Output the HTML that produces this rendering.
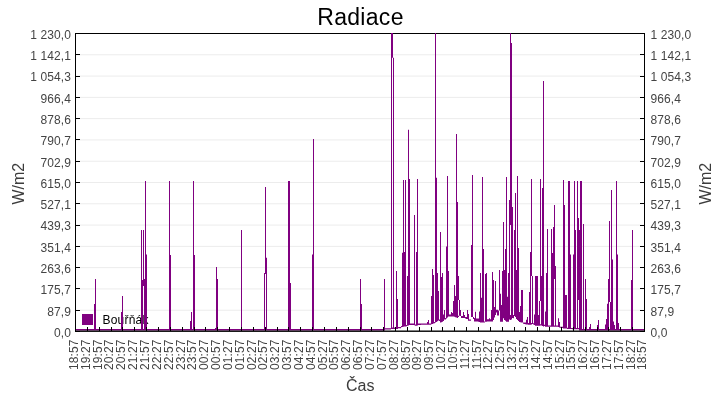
<!DOCTYPE html>
<html><head><meta charset="utf-8"><title>Radiace</title>
<style>
html,body{margin:0;padding:0;background:#fff;}
body{width:720px;height:400px;overflow:hidden;font-family:"Liberation Sans",sans-serif;}
svg{display:block;will-change:transform;font-family:"Liberation Sans",sans-serif;}
.tl{font-size:12px;fill:#444;letter-spacing:0.1px;}
.al{font-size:16px;fill:#3c3c3c;}
</style></head><body>
<svg width="720" height="400" viewBox="0 0 720 400">
<rect x="0" y="0" width="720" height="400" fill="#ffffff"/>
<text x="360.5" y="25" text-anchor="middle" font-size="23px" letter-spacing="0.3" fill="#000">Radiace</text>
<g fill="#ececec">
<rect x="76" y="54.29" width="568" height="1"/>
<rect x="76" y="75.57" width="568" height="1"/>
<rect x="76" y="96.86" width="568" height="1"/>
<rect x="76" y="118.14" width="568" height="1"/>
<rect x="76" y="139.43" width="568" height="1"/>
<rect x="76" y="160.71" width="568" height="1"/>
<rect x="76" y="182" width="568" height="1"/>
<rect x="76" y="203.29" width="568" height="1"/>
<rect x="76" y="224.57" width="568" height="1"/>
<rect x="76" y="245.86" width="568" height="1"/>
<rect x="76" y="267.14" width="568" height="1"/>
<rect x="76" y="288.43" width="568" height="1"/>
<rect x="76" y="309.71" width="568" height="1"/>
</g>
<rect x="82" y="314" width="11" height="11" fill="#800080"/>
<text x="102.5" y="323.8" font-size="12px" letter-spacing="0.2" fill="#000">Bouřňák</text>
<rect x="75" y="33" width="570" height="1" fill="#000" shape-rendering="crispEdges"/>
<g fill="#800080" shape-rendering="crispEdges">
<path shape-rendering="auto" d="M76 329v1.5h1v-1.5zM77 329v1.5h1v-1.5zM78 329v1.5h1v-1.5zM79 329v1.5h1v-1.5zM80 329v1.5h1v-1.5zM81 329v1.5h1v-1.5zM82 329v1.5h1v-1.5zM83 329v1.5h1v-1.5zM84 329v1.5h1v-1.5zM85 329v1.5h1v-1.5zM86 329v1.5h1v-1.5zM87 329v1.5h1v-1.5zM88 329v1.5h1v-1.5zM89 329v1.5h1v-1.5zM90 329v1.5h1v-1.5zM91 329v1.5h1v-1.5zM92 329v1.5h1v-1.5zM93 329v1.5h1v-1.5zM94 304v26.5h1v-26.5zM95 279v51.5h1v-51.5zM96 329v1.5h1v-1.5zM97 329v1.5h1v-1.5zM98 329v1.5h1v-1.5zM99 329v1.5h1v-1.5zM100 329v1.5h1v-1.5zM101 329v1.5h1v-1.5zM102 329v1.5h1v-1.5zM103 329v1.5h1v-1.5zM104 329v1.5h1v-1.5zM105 329v1.5h1v-1.5zM106 329v1.5h1v-1.5zM107 329v1.5h1v-1.5zM108 329v1.5h1v-1.5zM109 329v1.5h1v-1.5zM110 329v1.5h1v-1.5zM111 329v1.5h1v-1.5zM112 329v1.5h1v-1.5zM113 329v1.5h1v-1.5zM114 329v1.5h1v-1.5zM115 329v1.5h1v-1.5zM116 329v1.5h1v-1.5zM117 329v1.5h1v-1.5zM118 329v1.5h1v-1.5zM119 329v1.5h1v-1.5zM120 329v1.5h1v-1.5zM121 312v18.5h1v-18.5zM122 296v34.5h1v-34.5zM123 329v1.5h1v-1.5zM124 329v1.5h1v-1.5zM125 329v1.5h1v-1.5zM126 329v1.5h1v-1.5zM127 329v1.5h1v-1.5zM128 329v1.5h1v-1.5zM129 329v1.5h1v-1.5zM130 329v1.5h1v-1.5zM131 329v1.5h1v-1.5zM132 329v1.5h1v-1.5zM133 329v1.5h1v-1.5zM134 329v1.5h1v-1.5zM135 329v1.5h1v-1.5zM136 329v1.5h1v-1.5zM137 329v1.5h1v-1.5zM138 329v1.5h1v-1.5zM139 329v1.5h1v-1.5zM140 329v1.5h1v-1.5zM141 230v100.5h1v-100.5zM142 280v50.5h1v-50.5zM143 230v56h1v-56zM143 329v1.5h1v-1.5zM144 279v51.5h1v-51.5zM145 181v149.5h1v-149.5zM146 254.6v75.9h1v-75.9zM147 329v1.5h1v-1.5zM148 329v1.5h1v-1.5zM149 329v1.5h1v-1.5zM150 329v1.5h1v-1.5zM151 329v1.5h1v-1.5zM152 329v1.5h1v-1.5zM153 329v1.5h1v-1.5zM154 329v1.5h1v-1.5zM155 329v1.5h1v-1.5zM156 329v1.5h1v-1.5zM157 329v1.5h1v-1.5zM158 329v1.5h1v-1.5zM159 329v1.5h1v-1.5zM160 329v1.5h1v-1.5zM161 329v1.5h1v-1.5zM162 329v1.5h1v-1.5zM163 329v1.5h1v-1.5zM164 329v1.5h1v-1.5zM165 329v1.5h1v-1.5zM166 329v1.5h1v-1.5zM167 329v1.5h1v-1.5zM168 329v1.5h1v-1.5zM169 181v149.5h1v-149.5zM170 255v75.5h1v-75.5zM171 329v1.5h1v-1.5zM172 329v1.5h1v-1.5zM173 329v1.5h1v-1.5zM174 329v1.5h1v-1.5zM175 329v1.5h1v-1.5zM176 329v1.5h1v-1.5zM177 329v1.5h1v-1.5zM178 329v1.5h1v-1.5zM179 329v1.5h1v-1.5zM180 329v1.5h1v-1.5zM181 329v1.5h1v-1.5zM182 329v1.5h1v-1.5zM183 329v1.5h1v-1.5zM184 329v1.5h1v-1.5zM185 329v1.5h1v-1.5zM186 329v1.5h1v-1.5zM187 329v1.5h1v-1.5zM188 329v1.5h1v-1.5zM189 329v1.5h1v-1.5zM190 321v9.5h1v-9.5zM191 312v18.5h1v-18.5zM192 329v1.5h1v-1.5zM193 181v149.5h1v-149.5zM194 255v75.5h1v-75.5zM195 329v1.5h1v-1.5zM196 329v1.5h1v-1.5zM197 329v1.5h1v-1.5zM198 329v1.5h1v-1.5zM199 329v1.5h1v-1.5zM200 329v1.5h1v-1.5zM201 329v1.5h1v-1.5zM202 329v1.5h1v-1.5zM203 329v1.5h1v-1.5zM204 329v1.5h1v-1.5zM205 329v1.5h1v-1.5zM206 329v1.5h1v-1.5zM207 329v1.5h1v-1.5zM208 329v1.5h1v-1.5zM209 329v1.5h1v-1.5zM210 329v1.5h1v-1.5zM211 329v1.5h1v-1.5zM212 329v1.5h1v-1.5zM213 329v1.5h1v-1.5zM214 329v1.5h1v-1.5zM215 328v2.5h1v-2.5zM216 267v63.5h1v-63.5zM217 279v51.5h1v-51.5zM218 329v1.5h1v-1.5zM219 329v1.5h1v-1.5zM220 329v1.5h1v-1.5zM221 329v1.5h1v-1.5zM222 329v1.5h1v-1.5zM223 329v1.5h1v-1.5zM224 329v1.5h1v-1.5zM225 329v1.5h1v-1.5zM226 329v1.5h1v-1.5zM227 329v1.5h1v-1.5zM228 329v1.5h1v-1.5zM229 329v1.5h1v-1.5zM230 329v1.5h1v-1.5zM231 329v1.5h1v-1.5zM232 329v1.5h1v-1.5zM233 329v1.5h1v-1.5zM234 329v1.5h1v-1.5zM235 329v1.5h1v-1.5zM236 329v1.5h1v-1.5zM237 329v1.5h1v-1.5zM238 329v1.5h1v-1.5zM239 329v1.5h1v-1.5zM240 329v1.5h1v-1.5zM241 230v100.5h1v-100.5zM242 329v1.5h1v-1.5zM243 329v1.5h1v-1.5zM244 329v1.5h1v-1.5zM245 329v1.5h1v-1.5zM246 329v1.5h1v-1.5zM247 329v1.5h1v-1.5zM248 329v1.5h1v-1.5zM249 329v1.5h1v-1.5zM250 329v1.5h1v-1.5zM251 329v1.5h1v-1.5zM252 329v1.5h1v-1.5zM253 329v1.5h1v-1.5zM254 329v1.5h1v-1.5zM255 329v1.5h1v-1.5zM256 329v1.5h1v-1.5zM257 329v1.5h1v-1.5zM258 329v1.5h1v-1.5zM259 329v1.5h1v-1.5zM260 329v1.5h1v-1.5zM261 329v1.5h1v-1.5zM262 329v1.5h1v-1.5zM263 329v1.5h1v-1.5zM264 273v57.5h1v-57.5zM265 187v87h1v-87zM265 329v1.5h1v-1.5zM266 257.75v72.75h1v-72.75zM267 329v1.5h1v-1.5zM268 329v1.5h1v-1.5zM269 329v1.5h1v-1.5zM270 329v1.5h1v-1.5zM271 329v1.5h1v-1.5zM272 329v1.5h1v-1.5zM273 329v1.5h1v-1.5zM274 329v1.5h1v-1.5zM275 329v1.5h1v-1.5zM276 329v1.5h1v-1.5zM277 329v1.5h1v-1.5zM278 329v1.5h1v-1.5zM279 329v1.5h1v-1.5zM280 329v1.5h1v-1.5zM281 329v1.5h1v-1.5zM282 329v1.5h1v-1.5zM283 329v1.5h1v-1.5zM284 329v1.5h1v-1.5zM285 329v1.5h1v-1.5zM286 329v1.5h1v-1.5zM287 329v1.5h1v-1.5zM288 181v149.5h1v-149.5zM289 181v149.5h1v-149.5zM290 283v47.5h1v-47.5zM291 329v1.5h1v-1.5zM292 329v1.5h1v-1.5zM293 329v1.5h1v-1.5zM294 329v1.5h1v-1.5zM295 329v1.5h1v-1.5zM296 329v1.5h1v-1.5zM297 329v1.5h1v-1.5zM298 329v1.5h1v-1.5zM299 329v1.5h1v-1.5zM300 329v1.5h1v-1.5zM301 329v1.5h1v-1.5zM302 329v1.5h1v-1.5zM303 329v1.5h1v-1.5zM304 329v1.5h1v-1.5zM305 329v1.5h1v-1.5zM306 329v1.5h1v-1.5zM307 329v1.5h1v-1.5zM308 329v1.5h1v-1.5zM309 329v1.5h1v-1.5zM310 329v1.5h1v-1.5zM311 329v1.5h1v-1.5zM312 254.6v75.9h1v-75.9zM313 139v191.5h1v-191.5zM314 329v1.5h1v-1.5zM315 329v1.5h1v-1.5zM316 329v1.5h1v-1.5zM317 329v1.5h1v-1.5zM318 329v1.5h1v-1.5zM319 329v1.5h1v-1.5zM320 329v1.5h1v-1.5zM321 329v1.5h1v-1.5zM322 329v1.5h1v-1.5zM323 329v1.5h1v-1.5zM324 329v1.5h1v-1.5zM325 329v1.5h1v-1.5zM326 329v1.5h1v-1.5zM327 329v1.5h1v-1.5zM328 329v1.5h1v-1.5zM329 329v1.5h1v-1.5zM330 329v1.5h1v-1.5zM331 329v1.5h1v-1.5zM332 329v1.5h1v-1.5zM333 329v1.5h1v-1.5zM334 329v1.5h1v-1.5zM335 329v1.5h1v-1.5zM336 329v1.5h1v-1.5zM337 329v1.5h1v-1.5zM338 329v1.5h1v-1.5zM339 329v1.5h1v-1.5zM340 329v1.5h1v-1.5zM341 329v1.5h1v-1.5zM342 329v1.5h1v-1.5zM343 329v1.5h1v-1.5zM344 329v1.5h1v-1.5zM345 329v1.5h1v-1.5zM346 329v1.5h1v-1.5zM347 329v1.5h1v-1.5zM348 329v1.5h1v-1.5zM349 329v1.5h1v-1.5zM350 329v1.5h1v-1.5zM351 329v1.5h1v-1.5zM352 329v1.5h1v-1.5zM353 329v1.5h1v-1.5zM354 329v1.5h1v-1.5zM355 329v1.5h1v-1.5zM356 329v1.5h1v-1.5zM357 329v1.5h1v-1.5zM358 329v1.5h1v-1.5zM359 329v1.5h1v-1.5zM360 279v51.5h1v-51.5zM361 304v26.5h1v-26.5zM362 329v1.5h1v-1.5zM363 329v1.5h1v-1.5zM364 329v1.5h1v-1.5zM365 329v1.5h1v-1.5zM366 329v1.5h1v-1.5zM367 329v1.5h1v-1.5zM368 329v1.5h1v-1.5zM369 329v1.5h1v-1.5zM370 329v1.5h1v-1.5zM371 329v1.5h1v-1.5zM372 329v1.5h1v-1.5zM373 329v1.5h1v-1.5zM374 329v1.5h1v-1.5zM375 329v1.5h1v-1.5zM376 329v1.5h1v-1.5zM377 329v1.5h1v-1.5zM378 329v1.5h1v-1.5zM379 329v1.5h1v-1.5zM380 329v1.5h1v-1.5zM381 329v1.5h1v-1.5zM382 329v1.5h1v-1.5zM383 329v1.5h1v-1.5zM384 279v51.5h1v-51.5zM385 328.2v1.3h1v-1.3zM386 328.2v1.3h1v-1.3zM387 328.2v1.3h1v-1.3zM388 328.2v1.3h1v-1.3zM389 328.2v1.3h1v-1.3zM390 328.2v1.3h1v-1.3zM391 33v295.9h1v-295.9zM392 33v24.75h1v-24.75zM392 327.6v1.3h1v-1.3zM393 57.75v271.15h1v-271.15zM394 327.6v1.3h1v-1.3zM395 327.6v1.3h1v-1.3zM396 271v57.9h1v-57.9zM397 299v29.9h1v-29.9zM398 326.9v1.3h1v-1.3zM399 326.9v1.3h1v-1.3zM400 326.9v1.3h1v-1.3zM401 325.9v1.3h1v-1.3zM402 252.75v74.25h1v-74.25zM403 180v146.8h1v-146.8zM404 252v74.6h1v-74.6zM405 180v146.4h1v-146.4zM406 324.9v1.3h1v-1.3zM407 276v49.8h1v-49.8zM408 129.75v195.65h1v-195.65zM409 179v146h1v-146zM410 323.6v1.3h1v-1.3zM411 323.6v1.3h1v-1.3zM412 323.6v1.3h1v-1.3zM413 323.6v1.3h1v-1.3zM414 215v110.35h1v-110.35zM415 324.5v1.3h1v-1.3zM416 252v73.65h1v-73.65zM417 179v146.5h1v-146.5zM418 323.6v1.3h1v-1.3zM419 323.59v1.3h1v-1.3zM420 323.58v1.3h1v-1.3zM421 323.57v1.3h1v-1.3zM422 323.57v1.3h1v-1.3zM423 323.56v1.3h1v-1.3zM424 323.55v1.3h1v-1.3zM425 323.54v1.3h1v-1.3zM426 323.53v1.3h1v-1.3zM427 322v2.82h1v-2.82zM428 320v4.82h1v-4.82zM429 323.51v1.3h1v-1.3zM430 323.5v1.3h1v-1.3zM431 295.9v28.47h1v-28.47zM432 269v54.93h1v-54.93zM433 275v48.5h1v-48.5zM434 322v1.3h1v-1.3zM435 33v289.62h1v-289.62zM436 177.75v144.2h1v-144.2zM437 273v48.28h1v-48.28zM438 290.9v29.7h1v-29.7zM439 319.5v1.5h1v-1.5zM440 232v90.6h1v-90.6zM441 277v45.15h1v-45.15zM442 273v48.7h1v-48.7zM443 314.5v6.5h1v-6.5zM444 310v9.5h1v-9.5zM445 318v1.5h1v-1.5zM446 246.5v72h1v-72zM447 176v141.45h1v-141.45zM448 271v45.4h1v-45.4zM449 314.5v1.9h1v-1.9zM450 314.5v1.9h1v-1.9zM451 312v4.4h1v-4.4zM452 313v3.4h1v-3.4zM453 300.9v15.5h1v-15.5zM454 285v31.8h1v-31.8zM455 295.9v21.3h1v-21.3zM456 134v183.6h1v-183.6zM457 202v116h1v-116zM458 276v24h1v-24zM458 315.7v1.3h1v-1.3zM459 300v15.75h1v-15.75zM460 310v6h1v-6zM461 316v2h1v-2zM462 316v2h1v-2zM463 312v6h1v-6zM464 315v3h1v-3zM465 317v1.5h1v-1.5zM466 317v2h1v-2zM467 310v9h1v-9zM468 313.9v6.85h1v-6.85zM469 319.5v1.25h1v-1.25zM470 319.5v1.25h1v-1.25zM471 245v72h1v-72zM472 175v142h1v-142zM473 317v2h1v-2zM474 318v3.4h1v-3.4zM475 311.7v9.77h1v-9.77zM476 318.5v3.05h1v-3.05zM477 318.5v3.12h1v-3.12zM478 318.5v3.2h1v-3.2zM479 311.4v10.6h1v-10.6zM480 273v49.6h1v-49.6zM481 297.75v24.85h1v-24.85zM482 177v145.6h1v-145.6zM483 249v73.6h1v-73.6zM484 321.5v1.1h1v-1.1zM485 274v47.7h1v-47.7zM486 273v48.66h1v-48.66zM487 319.2v2.41h1v-2.41zM488 319.2v2.37h1v-2.37zM489 318.25v3.28h1v-3.28zM490 319.2v2.29h1v-2.29zM491 310v11.44h1v-11.44zM492 272v49.4h1v-49.4zM493 280v40h1v-40zM494 307v10.6h1v-10.6zM495 281v34h1v-34zM496 309.8v2.8h1v-2.8zM497 309.8v5.6h1v-5.6zM498 310.4v5h1v-5zM499 270v40.5h1v-40.5zM500 293.7v28h1v-28zM501 305v16.7h1v-16.7zM502 271v50.7h1v-50.7zM503 222v96.25h1v-96.25zM504 270v50h1v-50zM505 249v71.85h1v-71.85zM506 177v144.7h1v-144.7zM507 296.8v24.9h1v-24.9zM508 273v48.7h1v-48.7zM509 200v119.5h1v-119.5zM510 33v192h1v-192zM510 315v5h1v-5zM511 43v276.5h1v-276.5zM512 207v111h1v-111zM513 315v3.25h1v-3.25zM514 230v86h1v-86zM515 193v124h1v-124zM516 270v49h1v-49zM517 176v144h1v-144zM518 248v73h1v-73zM519 312v10h1v-10zM520 306v16.2h1v-16.2zM521 290v32.4h1v-32.4zM522 290v32.6h1v-32.6zM523 322.5v1.3h1v-1.3zM524 322.5v1.5h1v-1.5zM525 322.5v1.7h1v-1.7zM526 319.8v4.6h1v-4.6zM527 317v7.6h1v-7.6zM528 323v1.8h1v-1.8zM529 292v32.8h1v-32.8zM530 252v72.8h1v-72.8zM531 179v97h1v-97zM531 323.1v1.3h1v-1.3zM532 276v48h1v-48zM533 323.3v1.2h1v-1.2zM534 314.5v10.5h1v-10.5zM535 276v49.75h1v-49.75zM536 276v49.75h1v-49.75zM537 276v49.75h1v-49.75zM538 315v10.75h1v-10.75zM539 301v24.75h1v-24.75zM540 179v122h1v-122zM540 324.32v1.3h1v-1.3zM541 276v49.5h1v-49.5zM542 188v137.95h1v-137.95zM543 81v245.4h1v-245.4zM544 324.8v1.2h1v-1.2zM545 311.4v15.3h1v-15.3zM546 273v53.7h1v-53.7zM547 229v97.7h1v-97.7zM548 325.5v1.2h1v-1.2zM549 325.5v1.2h1v-1.2zM550 325.5v1.2h1v-1.2zM551 229v97.7h1v-97.7zM552 253v73.7h1v-73.7zM553 227v99.7h1v-99.7zM554 205v74h1v-74zM554 325.4v1.3h1v-1.3zM555 266v60.7h1v-60.7zM556 325.5v1.2h1v-1.2zM557 325.5v1.2h1v-1.2zM558 318.25v8.75h1v-8.75zM559 322v5.5h1v-5.5zM560 326.8v0.87h1v-0.87zM561 326.8v1.03h1v-1.03zM562 326.8v1.2h1v-1.2zM563 180v148.5h1v-148.5zM564 205v123.5h1v-123.5zM565 295v33.5h1v-33.5zM566 295v33.5h1v-33.5zM567 327.8v1.2h1v-1.2zM568 181v148.03h1v-148.03zM569 181v148.05h1v-148.05zM570 254.6v74.48h1v-74.48zM571 328v1.11h1v-1.11zM572 328v1.14h1v-1.14zM573 254.6v74.56h1v-74.56zM574 181v148.19h1v-148.19zM575 230v99.22h1v-99.22zM576 328v1.25h1v-1.25zM577 181v148.27h1v-148.27zM578 218v82h1v-82zM578 328v1.3h1v-1.3zM579 230v100.5h1v-100.5zM580 181v149.5h1v-149.5zM581 181v149.5h1v-149.5zM582 329v1.5h1v-1.5zM583 224v106.5h1v-106.5zM584 329v1.5h1v-1.5zM585 279v51.5h1v-51.5zM586 299v31.5h1v-31.5zM587 329v1.5h1v-1.5zM588 329v1.5h1v-1.5zM589 327v3.5h1v-3.5zM590 324v6.5h1v-6.5zM591 329v1.5h1v-1.5zM592 329v1.5h1v-1.5zM593 329v1.5h1v-1.5zM594 329v1.5h1v-1.5zM595 329v1.5h1v-1.5zM596 329v1.5h1v-1.5zM597 325v5.5h1v-5.5zM598 320v10.5h1v-10.5zM599 329v1.5h1v-1.5zM600 329v1.5h1v-1.5zM601 329v1.5h1v-1.5zM602 329v1.5h1v-1.5zM603 329v1.5h1v-1.5zM604 329v1.5h1v-1.5zM605 324.6v5.9h1v-5.9zM606 319v11.5h1v-11.5zM607 303.8v26.7h1v-26.7zM608 279v51.5h1v-51.5zM609 221v81h1v-81zM609 329v1.5h1v-1.5zM610 302v28.5h1v-28.5zM611 190v140.5h1v-140.5zM612 259.6v70.9h1v-70.9zM613 321.4v9.1h1v-9.1zM614 325v5.5h1v-5.5zM615 329v1.5h1v-1.5zM616 181v149.5h1v-149.5zM617 254.6v75.9h1v-75.9zM618 323v7.5h1v-7.5zM619 329v1.5h1v-1.5zM620 329v1.5h1v-1.5zM621 329v1.5h1v-1.5zM622 329v1.5h1v-1.5zM623 329v1.5h1v-1.5zM624 329v1.5h1v-1.5zM625 329v1.5h1v-1.5zM626 329v1.5h1v-1.5zM627 329v1.5h1v-1.5zM628 329v1.5h1v-1.5zM629 329v1.5h1v-1.5zM630 329v1.5h1v-1.5zM631 280v50.5h1v-50.5zM632 230v100.5h1v-100.5zM633 329v1.5h1v-1.5zM634 329v1.5h1v-1.5zM635 329v1.5h1v-1.5zM636 329v1.5h1v-1.5zM637 329v1.5h1v-1.5zM638 329v1.5h1v-1.5zM639 329v1.5h1v-1.5zM640 329v1.5h1v-1.5zM641 329v1.5h1v-1.5zM642 329v1.5h1v-1.5zM643 329v1.5h1v-1.5z"/>
</g>
<g fill="#000" shape-rendering="crispEdges">
<rect x="75" y="33" width="1" height="299"/>
<rect x="644" y="33" width="1" height="299"/>
<rect x="76" y="33" width="4" height="1"/><rect x="640" y="33" width="4" height="1"/>
<rect x="76" y="54" width="4" height="1"/><rect x="640" y="54" width="4" height="1"/>
<rect x="76" y="76" width="4" height="1"/><rect x="640" y="76" width="4" height="1"/>
<rect x="76" y="97" width="4" height="1"/><rect x="640" y="97" width="4" height="1"/>
<rect x="76" y="118" width="4" height="1"/><rect x="640" y="118" width="4" height="1"/>
<rect x="76" y="139" width="4" height="1"/><rect x="640" y="139" width="4" height="1"/>
<rect x="76" y="161" width="4" height="1"/><rect x="640" y="161" width="4" height="1"/>
<rect x="76" y="182" width="4" height="1"/><rect x="640" y="182" width="4" height="1"/>
<rect x="76" y="203" width="4" height="1"/><rect x="640" y="203" width="4" height="1"/>
<rect x="76" y="225" width="4" height="1"/><rect x="640" y="225" width="4" height="1"/>
<rect x="76" y="246" width="4" height="1"/><rect x="640" y="246" width="4" height="1"/>
<rect x="76" y="267" width="4" height="1"/><rect x="640" y="267" width="4" height="1"/>
<rect x="76" y="288" width="4" height="1"/><rect x="640" y="288" width="4" height="1"/>
<rect x="76" y="310" width="4" height="1"/><rect x="640" y="310" width="4" height="1"/>
<rect x="76" y="331" width="4" height="1"/><rect x="640" y="331" width="4" height="1"/>
<rect x="75" y="327" width="1" height="4"/>
<rect x="87" y="327" width="1" height="4"/>
<rect x="99" y="327" width="1" height="4"/>
<rect x="111" y="327" width="1" height="4"/>
<rect x="122" y="327" width="1" height="4"/>
<rect x="134" y="327" width="1" height="4"/>
<rect x="146" y="327" width="1" height="4"/>
<rect x="158" y="327" width="1" height="4"/>
<rect x="170" y="327" width="1" height="4"/>
<rect x="182" y="327" width="1" height="4"/>
<rect x="194" y="327" width="1" height="4"/>
<rect x="205" y="327" width="1" height="4"/>
<rect x="217" y="327" width="1" height="4"/>
<rect x="229" y="327" width="1" height="4"/>
<rect x="241" y="327" width="1" height="4"/>
<rect x="253" y="327" width="1" height="4"/>
<rect x="265" y="327" width="1" height="4"/>
<rect x="277" y="327" width="1" height="4"/>
<rect x="288" y="327" width="1" height="4"/>
<rect x="300" y="327" width="1" height="4"/>
<rect x="312" y="327" width="1" height="4"/>
<rect x="324" y="327" width="1" height="4"/>
<rect x="336" y="327" width="1" height="4"/>
<rect x="348" y="327" width="1" height="4"/>
<rect x="360" y="327" width="1" height="4"/>
<rect x="371" y="327" width="1" height="4"/>
<rect x="383" y="327" width="1" height="4"/>
<rect x="395" y="327" width="1" height="4"/>
<rect x="407" y="327" width="1" height="4"/>
<rect x="419" y="327" width="1" height="4"/>
<rect x="431" y="327" width="1" height="4"/>
<rect x="442" y="327" width="1" height="4"/>
<rect x="454" y="327" width="1" height="4"/>
<rect x="466" y="327" width="1" height="4"/>
<rect x="478" y="327" width="1" height="4"/>
<rect x="490" y="327" width="1" height="4"/>
<rect x="502" y="327" width="1" height="4"/>
<rect x="514" y="327" width="1" height="4"/>
<rect x="525" y="327" width="1" height="4"/>
<rect x="537" y="327" width="1" height="4"/>
<rect x="549" y="327" width="1" height="4"/>
<rect x="561" y="327" width="1" height="4"/>
<rect x="573" y="327" width="1" height="4"/>
<rect x="585" y="327" width="1" height="4"/>
<rect x="597" y="327" width="1" height="4"/>
<rect x="608" y="327" width="1" height="4"/>
<rect x="620" y="327" width="1" height="4"/>
<rect x="632" y="327" width="1" height="4"/>
<rect x="644" y="327" width="1" height="4"/>
</g>
<rect x="75" y="330.5" width="570" height="1.4" fill="#000"/>
<g class="tl">
<text x="71" y="38.8" text-anchor="end">1&#160;230,0</text><text x="650.5" y="38.8">1&#160;230,0</text>
<text x="71" y="60.09" text-anchor="end">1&#160;142,1</text><text x="650.5" y="60.09">1&#160;142,1</text>
<text x="71" y="81.37" text-anchor="end">1&#160;054,3</text><text x="650.5" y="81.37">1&#160;054,3</text>
<text x="71" y="102.66" text-anchor="end">966,4</text><text x="650.5" y="102.66">966,4</text>
<text x="71" y="123.94" text-anchor="end">878,6</text><text x="650.5" y="123.94">878,6</text>
<text x="71" y="145.23" text-anchor="end">790,7</text><text x="650.5" y="145.23">790,7</text>
<text x="71" y="166.51" text-anchor="end">702,9</text><text x="650.5" y="166.51">702,9</text>
<text x="71" y="187.8" text-anchor="end">615,0</text><text x="650.5" y="187.8">615,0</text>
<text x="71" y="209.09" text-anchor="end">527,1</text><text x="650.5" y="209.09">527,1</text>
<text x="71" y="230.37" text-anchor="end">439,3</text><text x="650.5" y="230.37">439,3</text>
<text x="71" y="251.66" text-anchor="end">351,4</text><text x="650.5" y="251.66">351,4</text>
<text x="71" y="272.94" text-anchor="end">263,6</text><text x="650.5" y="272.94">263,6</text>
<text x="71" y="294.23" text-anchor="end">175,7</text><text x="650.5" y="294.23">175,7</text>
<text x="71" y="315.51" text-anchor="end">87,9</text><text x="650.5" y="315.51">87,9</text>
<text x="71" y="336.8" text-anchor="end">0,0</text><text x="650.5" y="336.8">0,0</text>
<text transform="translate(77.9 339.5) rotate(-90)" text-anchor="end">18:57</text>
<text transform="translate(89.74 339.5) rotate(-90)" text-anchor="end">19:27</text>
<text transform="translate(101.59 339.5) rotate(-90)" text-anchor="end">19:57</text>
<text transform="translate(113.43 339.5) rotate(-90)" text-anchor="end">20:27</text>
<text transform="translate(125.28 339.5) rotate(-90)" text-anchor="end">20:57</text>
<text transform="translate(137.12 339.5) rotate(-90)" text-anchor="end">21:27</text>
<text transform="translate(148.96 339.5) rotate(-90)" text-anchor="end">21:57</text>
<text transform="translate(160.81 339.5) rotate(-90)" text-anchor="end">22:27</text>
<text transform="translate(172.65 339.5) rotate(-90)" text-anchor="end">22:57</text>
<text transform="translate(184.5 339.5) rotate(-90)" text-anchor="end">23:27</text>
<text transform="translate(196.34 339.5) rotate(-90)" text-anchor="end">23:57</text>
<text transform="translate(208.18 339.5) rotate(-90)" text-anchor="end">00:27</text>
<text transform="translate(220.03 339.5) rotate(-90)" text-anchor="end">00:57</text>
<text transform="translate(231.87 339.5) rotate(-90)" text-anchor="end">01:27</text>
<text transform="translate(243.72 339.5) rotate(-90)" text-anchor="end">01:57</text>
<text transform="translate(255.56 339.5) rotate(-90)" text-anchor="end">02:27</text>
<text transform="translate(267.4 339.5) rotate(-90)" text-anchor="end">02:57</text>
<text transform="translate(279.25 339.5) rotate(-90)" text-anchor="end">03:27</text>
<text transform="translate(291.09 339.5) rotate(-90)" text-anchor="end">03:57</text>
<text transform="translate(302.94 339.5) rotate(-90)" text-anchor="end">04:27</text>
<text transform="translate(314.78 339.5) rotate(-90)" text-anchor="end">04:57</text>
<text transform="translate(326.62 339.5) rotate(-90)" text-anchor="end">05:27</text>
<text transform="translate(338.47 339.5) rotate(-90)" text-anchor="end">05:57</text>
<text transform="translate(350.31 339.5) rotate(-90)" text-anchor="end">06:27</text>
<text transform="translate(362.16 339.5) rotate(-90)" text-anchor="end">06:57</text>
<text transform="translate(374 339.5) rotate(-90)" text-anchor="end">07:27</text>
<text transform="translate(385.84 339.5) rotate(-90)" text-anchor="end">07:57</text>
<text transform="translate(397.69 339.5) rotate(-90)" text-anchor="end">08:27</text>
<text transform="translate(409.53 339.5) rotate(-90)" text-anchor="end">08:57</text>
<text transform="translate(421.38 339.5) rotate(-90)" text-anchor="end">09:27</text>
<text transform="translate(433.22 339.5) rotate(-90)" text-anchor="end">09:57</text>
<text transform="translate(445.06 339.5) rotate(-90)" text-anchor="end">10:27</text>
<text transform="translate(456.91 339.5) rotate(-90)" text-anchor="end">10:57</text>
<text transform="translate(468.75 339.5) rotate(-90)" text-anchor="end">11:27</text>
<text transform="translate(480.6 339.5) rotate(-90)" text-anchor="end">11:57</text>
<text transform="translate(492.44 339.5) rotate(-90)" text-anchor="end">12:27</text>
<text transform="translate(504.28 339.5) rotate(-90)" text-anchor="end">12:57</text>
<text transform="translate(516.13 339.5) rotate(-90)" text-anchor="end">13:27</text>
<text transform="translate(527.97 339.5) rotate(-90)" text-anchor="end">13:57</text>
<text transform="translate(539.82 339.5) rotate(-90)" text-anchor="end">14:27</text>
<text transform="translate(551.66 339.5) rotate(-90)" text-anchor="end">14:57</text>
<text transform="translate(563.5 339.5) rotate(-90)" text-anchor="end">15:27</text>
<text transform="translate(575.35 339.5) rotate(-90)" text-anchor="end">15:57</text>
<text transform="translate(587.19 339.5) rotate(-90)" text-anchor="end">16:27</text>
<text transform="translate(599.04 339.5) rotate(-90)" text-anchor="end">16:57</text>
<text transform="translate(610.88 339.5) rotate(-90)" text-anchor="end">17:27</text>
<text transform="translate(622.72 339.5) rotate(-90)" text-anchor="end">17:57</text>
<text transform="translate(634.57 339.5) rotate(-90)" text-anchor="end">18:27</text>
<text transform="translate(646.41 339.5) rotate(-90)" text-anchor="end">18:57</text>
</g>
<text class="al" x="360.2" y="390.6" text-anchor="middle">Čas</text>
<text class="al" transform="translate(24 183.7) rotate(-90)" text-anchor="middle">W/m2</text>
<text class="al" transform="translate(710.8 183.7) rotate(-90)" text-anchor="middle">W/m2</text>
</svg></body></html>
